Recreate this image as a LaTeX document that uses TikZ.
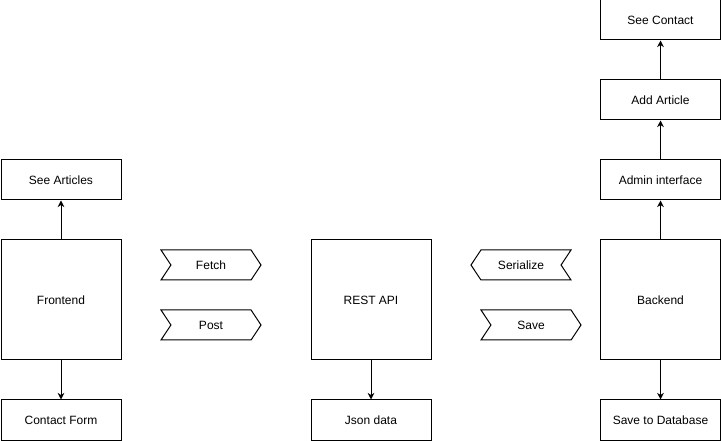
\documentclass[tikz,border=0pt]{standalone}
\usepackage{fontspec}
\setmainfont{Liberation Sans}
\usetikzlibrary{arrows.meta,positioning,shapes.symbols}

\begin{document}
\begin{tikzpicture}[
  x=0.75pt, y=-0.75pt,
  node distance=29.25pt,
  caja/.style={rectangle, draw, line width=0.75pt, align=center, minimum width=90pt, minimum height=30pt, inner sep=0pt, font=\fontsize{9}{11}\selectfont},
  cajagrande/.style={caja, minimum height=90pt},
  senal/.style={signal, draw, line width=0.75pt, minimum width=75pt, minimum height=22.5pt, inner sep=0pt, signal pointer angle=113, font=\fontsize{9}{11}\selectfont},
  flecha/.style={-{Stealth[length=5pt, width=5pt]}, line width=0.75pt}
]
\useasboundingbox (0,0) rectangle (721,441);
% frontend
\node[cajagrande] (front) at (61,300) {Frontend};
\node[caja, above=of front] (articulos) {See Articles};
\node[caja, below=of front] (contacto) {Contact Form};
% api
\node[cajagrande] (api) at (371,300) {REST API};
\node[caja, below=of api] (json) {Json data};
% backend
\node[cajagrande] (back) at (660.5,300) {Backend};
\node[caja, below=of back] (bd) {Save to Database};
\node[caja, above=of back] (admin) {Admin interface};
\node[caja, above=of admin] (articulo) {Add Article};
\node[caja, above=of articulo] (vercontacto) {See Contact};
% mensajes
\node[senal, signal from=west, signal to=east] (fetch) at (211,265) {Fetch};
\node[senal, signal from=west, signal to=east] (post) at (211,325) {Post};
\node[senal, signal from=east, signal to=west] (serial) at (521,265) {Serialize};
\node[senal, signal from=west, signal to=east] (save) at (531,325) {Save};
% flechas
\draw[flecha] (front) -- (articulos);
\draw[flecha] (front) -- (contacto);
\draw[flecha] (api) -- (json);
\draw[flecha] (back) -- (bd);
\draw[flecha] (back) -- (admin);
\draw[flecha] (admin) -- (articulo);
\draw[flecha] (articulo) -- (vercontacto);
\end{tikzpicture}
\end{document}
